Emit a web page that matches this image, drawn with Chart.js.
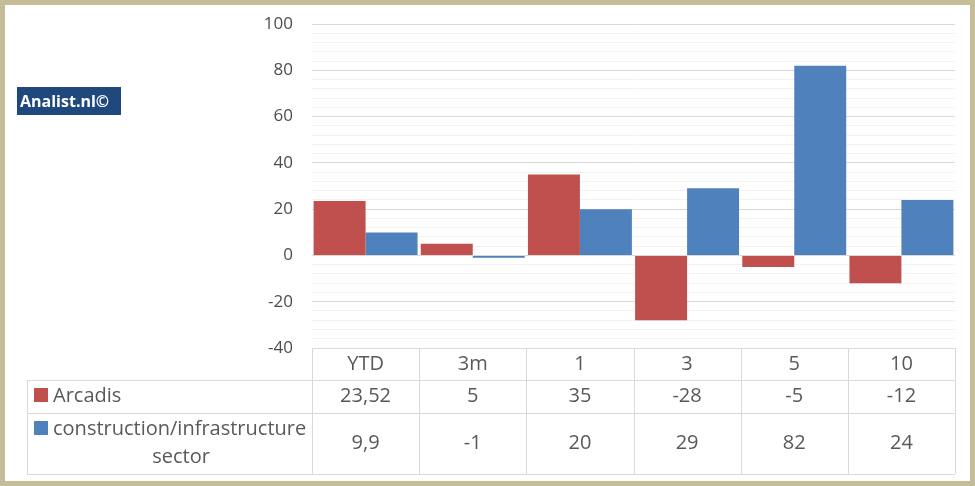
<!DOCTYPE html>
<html>
<head>
<meta charset="utf-8">
<script src="https://cdn.jsdelivr.net/npm/chart.js@4.4.1/dist/chart.umd.min.js"></script>
<style>
  html, body { margin: 0; padding: 0; background: #fff; }
  #wrap { width: 975px; height: 486px; position: relative; }
</style>
</head>
<body>
<div id="wrap"><canvas id="chart" width="975" height="486"></canvas></div>
<script>
const categories = ['YTD', '3m', '1', '3', '5', '10'];
const arcadis = [23.52, 5, 35, -28, -5, -12];
const sector = [9.9, -1, 20, 29, 82, 24];
const seriesNames = ['Arcadis', ['construction/infrastructure', 'sector']];
const yMin = -40, yMax = 100;

const red = '#C0504D';
const blue = '#4F81BD';
const textColor = '#595959';
const lineColor = '#d9d9d9';

function fmt(v) {
    return String(v).replace('.', ',');
}

// frame, watermark and data table under the plot
const tablePlugin = {
    id: 'table',
    afterDraw(chart) {
        const ctx = chart.ctx;
        const x = chart.scales.x;
        const area = chart.chartArea;
        const n = categories.length;
        const half = (x.getPixelForValue(1) - x.getPixelForValue(0)) / 2;
        const left = x.getPixelForValue(0) - half;
        const right = x.getPixelForValue(n - 1) + half;
        const keyLeft = 27;
        const row1 = Math.round(area.bottom), row2 = row1 + 32, row3 = row2 + 33, row4 = row3 + 61;

        ctx.save();
        ctx.strokeStyle = lineColor;
        ctx.lineWidth = 1;
        ctx.beginPath();
        ctx.moveTo(left, row1 + 0.5); ctx.lineTo(right, row1 + 0.5);
        ctx.moveTo(keyLeft, row2 + 0.5); ctx.lineTo(right, row2 + 0.5);
        ctx.moveTo(keyLeft, row3 + 0.5); ctx.lineTo(right, row3 + 0.5);
        ctx.moveTo(keyLeft, row4 + 0.5); ctx.lineTo(right, row4 + 0.5);
        ctx.moveTo(keyLeft + 0.5, row2); ctx.lineTo(keyLeft + 0.5, row4);
        for (let i = 0; i <= n; i++) {
            const px = Math.round(left + i * half * 2) + 0.5;
            ctx.moveTo(px, row1); ctx.lineTo(px, row4);
        }
        ctx.stroke();

        ctx.fillStyle = textColor;
        ctx.font = '20px "Open Sans"';
        ctx.textAlign = 'center';
        ctx.textBaseline = 'middle';
        for (let i = 0; i < n; i++) {
            const cx = x.getPixelForValue(i);
            ctx.fillText(categories[i], cx, (row1 + row2) / 2);
            ctx.fillText(fmt(arcadis[i]), cx, (row2 + row3) / 2);
            ctx.fillText(fmt(sector[i]), cx, (row3 + row4) / 2);
        }

        // legend keys
        ctx.fillStyle = red;
        ctx.fillRect(34, 388, 14, 14);
        ctx.fillStyle = blue;
        ctx.fillRect(34, 421, 14, 14);
        ctx.fillStyle = textColor;
        ctx.textAlign = 'left';
        ctx.fillText(seriesNames[0], 53, (row2 + row3) / 2);
        ctx.fillText(seriesNames[1][0], 53, 429);
        ctx.textAlign = 'center';
        ctx.fillText(seriesNames[1][1], 181, 457);

        // watermark
        ctx.fillStyle = '#1F497D';
        ctx.fillRect(17, 87, 104, 28);
        ctx.fillStyle = '#fff';
        ctx.font = 'bold 16px "Open Sans"';
        ctx.textAlign = 'left';
        ctx.fillText('Analist.nl©', 20, 102);

        // frame
        ctx.strokeStyle = '#c4bd97';
        ctx.lineWidth = 5;
        ctx.strokeRect(2.5, 2.5, chart.width - 5, chart.height - 5);
        ctx.restore();
    }
};

new Chart(document.getElementById('chart'), {
    type: 'bar',
    data: {
        labels: categories,
        datasets: [
            { label: 'Arcadis', data: arcadis, backgroundColor: red },
            { label: 'construction/infrastructure sector', data: sector, backgroundColor: blue }
        ]
    },
    options: {
        responsive: false,
        animation: false,
        events: [],
        layout: { padding: { top: 24, right: 20, bottom: 138, left: 0 } },
        datasets: { bar: { categoryPercentage: 0.97, barPercentage: 1.0 } },
        plugins: { legend: { display: false }, tooltip: { enabled: false } },
        scales: {
            x: { display: false },
            y: {
                min: yMin,
                max: yMax,
                afterFit(scale) {
                    scale.width = 312;
                    scale.paddingTop = 0;
                    scale.paddingBottom = 0;
                },
                border: { display: false },
                grid: {
                    drawTicks: false,
                    color: ctx => (ctx.tick && ctx.tick.value % 20 === 0) ? lineColor : '#f2f2f2'
                },
                ticks: {
                    stepSize: 4,
                    autoSkip: false,
                    padding: 19,
                    color: '#4d4d4d',
                    font: { family: '"Open Sans"', size: 17 },
                    callback: v => v % 20 === 0 ? v : ''
                }
            }
        }
    },
    plugins: [tablePlugin]
});
</script>
</body>
</html>
